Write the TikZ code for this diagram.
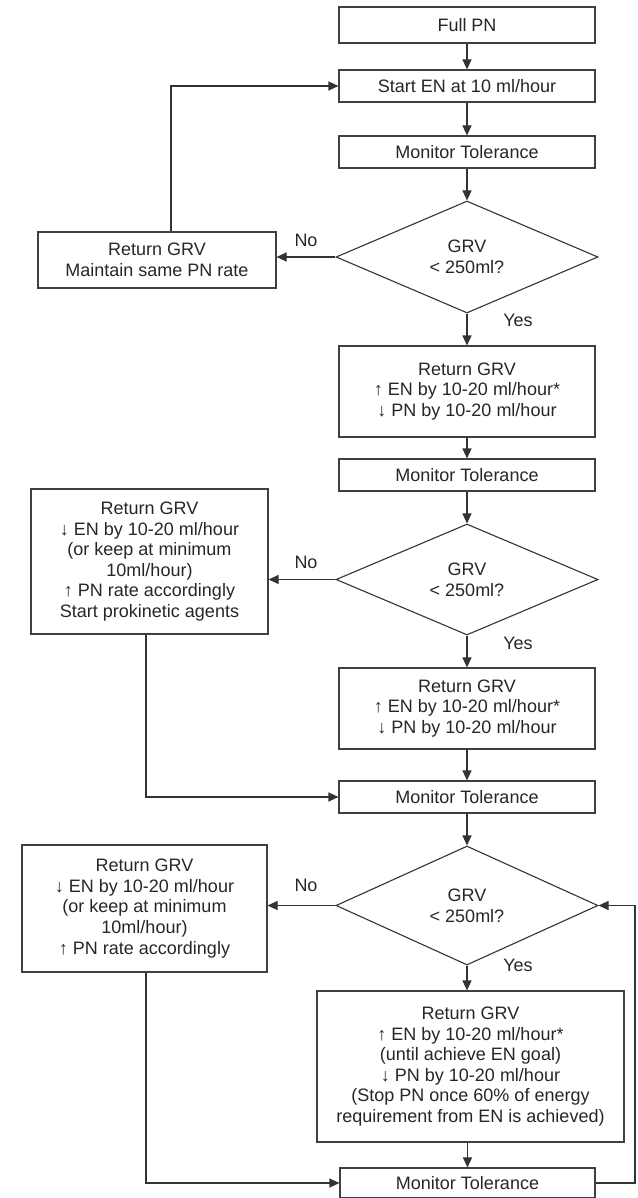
\documentclass[tikz,border=0pt]{standalone}
\usepackage{fontspec}
\setmainfont{Liberation Sans}
\usetikzlibrary{shapes.geometric,arrows.meta}
\begin{document}
\begin{tikzpicture}[x=1pt,y=-1pt,
  txt/.style={font=\fontsize{18}{20.6}\selectfont, text=black!85},
  box/.style={txt, draw=black!75, line width=1.1pt, rectangle, inner sep=0pt, align=center},
  dec/.style={txt, draw=black!80, line width=1.1pt, diamond, inner sep=0pt, align=center},
  arr/.style={-{Triangle[length=10pt,width=9pt]}, line width=1.1pt, draw=black!80},
  conn/.style={line width=1.1pt, draw=black!80},
  lbl/.style={txt, inner sep=0pt}
]
\useasboundingbox (0,0) rectangle (637,1198);

% main column
\node[box, minimum width=256pt, minimum height=36pt] (full) at (467,25) {Full PN};
\node[box, minimum width=256pt, minimum height=32pt] (start) at (467,86) {Start EN at 10 ml/hour};
\node[box, minimum width=256pt, minimum height=32pt] (mon1) at (467,152) {Monitor Tolerance};
\node[dec, minimum width=262pt, minimum height=112pt] (d1) at (467,257) {GRV\\< 250ml?};
\node[box, minimum width=238pt, minimum height=56pt] (ret1) at (157,260) {Return GRV\\Maintain same PN rate};
\node[box, minimum width=256pt, minimum height=91pt] (up1) at (467,391.5) {Return GRV\\ ↑ EN by 10-20 ml/hour*\\ ↓ PN by 10-20 ml/hour};
\node[box, minimum width=256pt, minimum height=32pt] (mon2) at (467,475) {Monitor Tolerance};
\node[dec, minimum width=262pt, minimum height=111pt] (d2) at (467,579.5) {GRV\\< 250ml?};
\node[box, minimum width=237pt, minimum height=145pt] (ret2) at (149.5,561.5) {Return GRV\\↓ EN by 10-20 ml/hour\\(or keep at minimum\\10ml/hour)\\↑ PN rate accordingly\\Start prokinetic agents};
\node[box, minimum width=256pt, minimum height=81pt] (up2) at (467,708.5) {Return GRV\\↑ EN by 10-20 ml/hour*\\↓ PN by 10-20 ml/hour};
\node[box, minimum width=256pt, minimum height=32pt] (mon3) at (467,797) {Monitor Tolerance};
\node[dec, minimum width=262pt, minimum height=119pt] (d3) at (467,905.5) {GRV\\< 250ml?};
\node[box, minimum width=245pt, minimum height=127pt] (ret3) at (144.5,908.5) {Return GRV\\↓ EN by 10-20 ml/hour\\(or keep at minimum\\10ml/hour)\\↑ PN rate accordingly};
\node[box, minimum width=307pt, minimum height=151pt] (up3) at (470.5,1066.5) {Return GRV\\↑ EN by 10-20 ml/hour*\\(until achieve EN goal)\\↓ PN by 10-20 ml/hour\\(Stop PN once 60\% of energy\\requirement from EN is achieved)};
\node[box, minimum width=255pt, minimum height=30pt] (mon4) at (467.5,1183) {Monitor Tolerance};

% labels
\node[lbl] (no1) at (306,240) {No};
\node[lbl] (yes1) at (518,320) {Yes};
\node[lbl] (no2) at (306,562) {No};
\node[lbl] (yes2) at (518,643) {Yes};
\node[lbl] (no3) at (306,885) {No};
\node[lbl] (yes3) at (518,965) {Yes};

% bend points
\coordinate (c1) at (171,86);
\coordinate (c2) at (146,797);
\coordinate (c3) at (146,1183);
\coordinate (c4) at (635,1183);

% connectors
\draw[arr] (full) -- (start);
\draw[arr] (start) -- (mon1);
\draw[arr] (mon1) -- (d1);
\draw[arr] (d1.west) -- (d1.west -| ret1.east);
\draw[arr] (ret1.north -| c1) -- (c1) -- (start.west);
\draw[arr] (d1) -- (up1);
\draw[arr] (up1) -- (mon2);
\draw[arr] (mon2) -- (d2);
\draw[arr] (d2.west) -- (d2.west -| ret2.east);
\draw[arr] (d2) -- (up2);
\draw[arr] (ret2.south -| c2) -- (c2) -- (mon3.west);
\draw[arr] (up2) -- (mon3);
\draw[arr] (mon3) -- (d3);
\draw[arr] (d3.west) -- (d3.west -| ret3.east);
\draw[arr] (d3.south) -- (d3.south |- up3.north);
\draw[arr] (up3.south -| mon4.north) -- (mon4.north);
\draw[arr] (ret3.south -| c3) -- (c3) -- (mon4.west);
\draw[arr] (mon4.east) -- (c4) |- (d3.east);
\end{tikzpicture}
\end{document}
